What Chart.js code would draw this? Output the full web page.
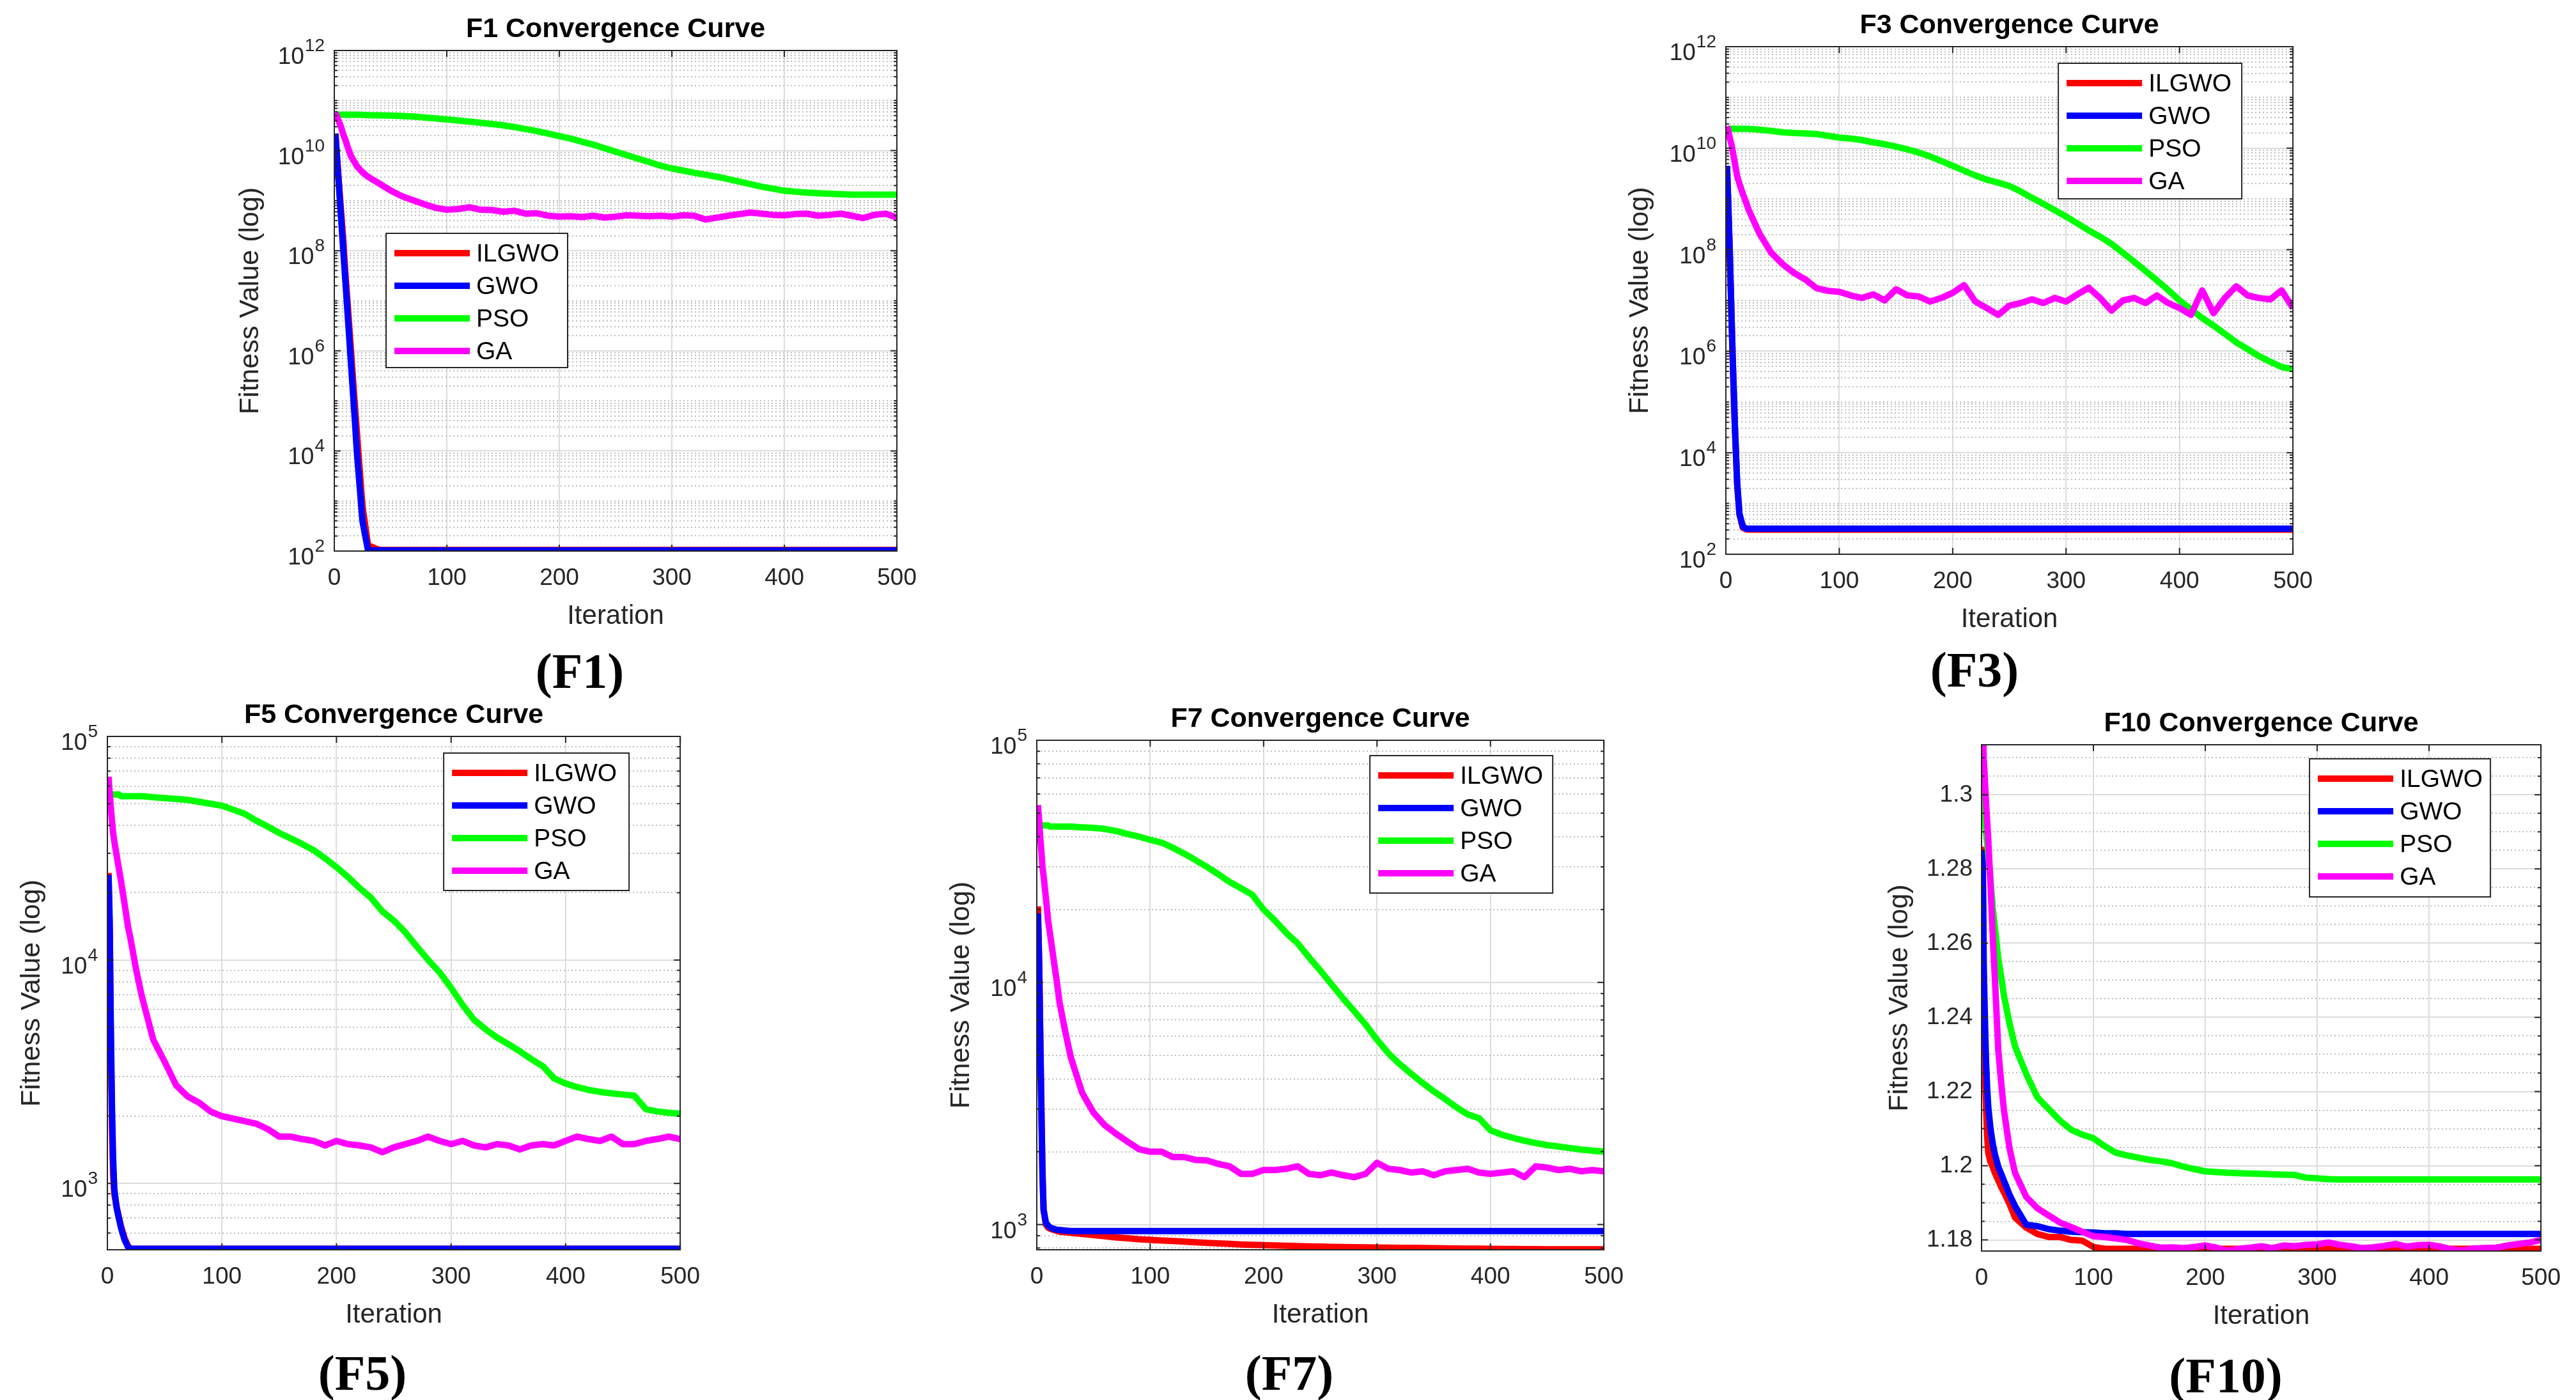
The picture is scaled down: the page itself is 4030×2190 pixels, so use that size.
<!DOCTYPE html>
<html>
<head>
<meta charset="utf-8">
<script src="https://cdn.jsdelivr.net/npm/chart.js@4.4.1/dist/chart.umd.min.js"></script>
<style>
html, body { margin: 0; padding: 0; background: #fff; }
body { width: 4030px; height: 2190px; position: relative; overflow: hidden; }
canvas { position: absolute; }
.cap { position: absolute; font: bold 78px 'Liberation Serif', serif; color: #000; transform: translate(-50%, -50%); white-space: nowrap; }
</style>
</head>
<body>
<div class="cap" style="left:907px;top:1050px">(F1)</div>
<div class="cap" style="left:3089px;top:1048px">(F3)</div>
<div class="cap" style="left:567px;top:2148px">(F5)</div>
<div class="cap" style="left:2017px;top:2148px">(F7)</div>
<div class="cap" style="left:3482px;top:2152px">(F10)</div>
<script>
// iterations sampled from the curves
var iters = [1,2,3,4,5,6,8,10,12,15,18,20,25,30,
  40,50,60,70,80,90,100,
  110,120,130,140,150,160,170,180,190,200,
  210,220,230,240,250,260,270,280,290,300,
  310,320,330,340,350,360,370,380,390,400,
  410,420,430,440,450,460,470,480,490,500];

var names = ['ILGWO', 'GWO', 'PSO', 'GA'];
var xTicks = [0, 100, 200, 300, 400, 500];

// F1
var f1Ilgwo = [2e10,1e10,5e9,2.5e9,1.25e9,6.3e8,1.6e8,3.2e7,8e6,9e5,1e5,2.5e4,8e2,1.3e2,
  105,105,105,105,105,105,105,
  105,105,105,105,105,105,105,105,105,105,
  105,105,105,105,105,105,105,105,105,105,
  105,105,105,105,105,105,105,105,105,105,
  105,105,105,105,105,105,105,105,105,105];
var f1Gwo = [2.2e10,1e10,4.6e9,2.1e9,1e9,4.6e8,1e8,2.2e7,4.8e6,4.8e5,5e4,1e4,4e2,103,
  103,103,103,103,103,103,103,
  103,103,103,103,103,103,103,103,103,103,
  103,103,103,103,103,103,103,103,103,103,
  103,103,103,103,103,103,103,103,103,103,
  103,103,103,103,103,103,103,103,103,103];
var f1Pso = [5.3e10,5.25e10,5.2e10,5.2e10,5.2e10,5.2e10,5.2e10,5.2e10,5.2e10,5.2e10,5.2e10,5.2e10,5.15e10,5.1e10,
  5.05e10,5.0e10,4.9e10,4.8e10,4.6e10,4.4e10,4.2e10,
  4.0e10,3.8e10,3.6e10,3.4e10,3.2e10,2.95e10,2.7e10,2.45e10,2.2e10,1.95e10,
  1.74e10,1.51e10,1.32e10,1.12e10,9.5e9,8.1e9,6.9e9,5.9e9,5.0e9,4.4e9,
  4.0e9,3.6e9,3.3e9,3.0e9,2.7e9,2.4e9,2.14e9,1.9e9,1.74e9,1.58e9,
  1.51e9,1.45e9,1.41e9,1.38e9,1.35e9,1.32e9,1.32e9,1.32e9,1.32e9,1.32e9];
var f1Ga = [5.75e10,5.0e10,4.4e10,3.8e10,3.4e10,2.95e10,2.1e10,1.6e10,1.15e10,7.6e9,5.9e9,4.9e9,3.7e9,3.0e9,
  2.2e9,1.6e9,1.23e9,1.02e9,8.5e8,7.2e8,6.6e8,
  6.8e8,7.4e8,6.6e8,6.5e8,6.0e8,6.3e8,5.5e8,5.6e8,5.0e8,4.8e8,
  4.9e8,4.7e8,5.0e8,4.6e8,4.8e8,5.1e8,5.0e8,4.9e8,5.0e8,4.8e8,
  5.1e8,5.0e8,4.2e8,4.6e8,5.0e8,5.4e8,5.8e8,5.5e8,5.2e8,5.1e8,
  5.4e8,5.5e8,5.0e8,5.2e8,5.5e8,5.0e8,4.5e8,5.2e8,5.5e8,4.6e8];

// F3
var f3Ilgwo = [4.4e9,9e8,1.8e8,3e7,4.5e6,7e5,3e4,2.3e3,6e2,3.3e2,3.1e2,305,305,305,
  305,305,305,305,305,305,305,
  305,305,305,305,305,305,305,305,305,305,
  305,305,305,305,305,305,305,305,305,305,
  305,305,305,305,305,305,305,305,305,305,
  305,305,305,305,305,305,305,305,305,305];
var f3Gwo = [4.5e9,1e9,2e8,3.2e7,5e6,8e5,3.2e4,2.5e3,6.3e2,3.5e2,320,320,320,320,
  320,320,320,320,320,320,320,
  320,320,320,320,320,320,320,320,320,320,
  320,320,320,320,320,320,320,320,320,320,
  320,320,320,320,320,320,320,320,320,320,
  320,320,320,320,320,320,320,320,320,320];
var f3Pso = [2.45e10,2.4e10,2.4e10,2.4e10,2.4e10,2.4e10,2.4e10,2.4e10,2.4e10,2.4e10,2.4e10,2.4e10,2.35e10,2.3e10,
  2.2e10,2.05e10,2.0e10,1.95e10,1.9e10,1.75e10,1.62e10,
  1.55e10,1.45e10,1.3e10,1.2e10,1.07e10,9.5e9,8.2e9,6.9e9,5.6e9,4.5e9,
  3.6e9,2.9e9,2.4e9,2.1e9,1.8e9,1.4e9,1.05e9,8e8,6e8,4.5e8,
  3.3e8,2.4e8,1.8e8,1.3e8,8.7e7,5.8e7,3.8e7,2.5e7,1.6e7,1.0e7,
  6.8e6,4.5e6,3.2e6,2.2e6,1.5e6,1.1e6,8e5,6.2e5,4.9e5,4.4e5];
var f3Ga = [2.7e10,2.24e10,1.78e10,1.41e10,1.17e10,8.9e9,5.0e9,2.8e9,2.0e9,1.26e9,8.3e8,6.2e8,3.5e8,2.0e8,
  8.7e7,5.2e7,3.5e7,2.6e7,1.74e7,1.55e7,1.48e7,
  1.26e7,1.12e7,1.32e7,1.0e7,1.66e7,1.26e7,1.2e7,9.5e6,1.12e7,1.41e7,
  2.0e7,9.5e6,7.1e6,5.2e6,7.9e6,8.9e6,1.05e7,8.9e6,1.12e7,9.5e6,
  1.32e7,1.78e7,1.12e7,6.3e6,1.0e7,1.12e7,8.9e6,1.26e7,8.9e6,7.1e6,
  5.2e6,1.58e7,5.6e6,1.12e7,1.9e7,1.26e7,1.12e7,1.05e7,1.58e7,7.1e6];

// F5
var f5Ilgwo = [2.45e4,1.3e4,4.5e3,1.8e3,1.1e3,900,790,710,640,570,525,512,510,510,
  510,510,510,510,510,510,510,
  510,510,510,510,510,510,510,510,510,510,
  510,510,510,510,510,510,510,510,510,510,
  510,510,510,510,510,510,510,510,510,510,
  510,510,510,510,510,510,510,510,510,510];
var f5Gwo = [2.4e4,1.5e4,5e3,2.2e3,1.3e3,950,780,700,630,560,520,510,510,510,
  510,510,510,510,510,510,510,
  510,510,510,510,510,510,510,510,510,510,
  510,510,510,510,510,510,510,510,510,510,
  510,510,510,510,510,510,510,510,510,510,
  510,510,510,510,510,510,510,510,510,510];
var f5Pso = [5.7e4,5.6e4,5.5e4,5.5e4,5.5e4,5.5e4,5.5e4,5.5e4,5.4e4,5.4e4,5.4e4,5.4e4,5.4e4,5.4e4,
  5.35e4,5.3e4,5.25e4,5.2e4,5.1e4,5.0e4,4.9e4,
  4.7e4,4.5e4,4.2e4,3.95e4,3.7e4,3.5e4,3.3e4,3.1e4,2.85e4,2.6e4,
  2.35e4,2.1e4,1.9e4,1.65e4,1.5e4,1.33e4,1.15e4,1.0e4,8.8e3,7.5e3,
  6.3e3,5.4e3,4.9e3,4.5e3,4.2e3,3.9e3,3.6e3,3.35e3,2.95e3,2.8e3,
  2.7e3,2.62e3,2.57e3,2.53e3,2.5e3,2.47e3,2.15e3,2.1e3,2.07e3,2.05e3];
var f5Ga = [6.6e4,5.6e4,4.8e4,4.2e4,3.7e4,3.4e4,2.95e4,2.57e4,2.24e4,1.78e4,1.41e4,1.26e4,9.1e3,6.9e3,
  4.4e3,3.5e3,2.75e3,2.45e3,2.3e3,2.1e3,2.0e3,
  1.95e3,1.9e3,1.85e3,1.75e3,1.62e3,1.62e3,1.58e3,1.55e3,1.48e3,1.55e3,
  1.5e3,1.48e3,1.45e3,1.38e3,1.45e3,1.5e3,1.55e3,1.62e3,1.55e3,1.5e3,
  1.55e3,1.48e3,1.45e3,1.5e3,1.48e3,1.42e3,1.48e3,1.5e3,1.48e3,1.55e3,
  1.62e3,1.58e3,1.55e3,1.62e3,1.5e3,1.5e3,1.55e3,1.58e3,1.62e3,1.58e3];

// F7
var f7Ilgwo = [2.06e4,1.3e4,6.5e3,3.2e3,1.7e3,1.15e3,1.0e3,970,960,950,940,935,930,925,
  915,905,895,885,878,870,865,
  860,855,850,845,840,836,832,828,825,822,
  820,817,815,813,811,809,807,806,805,804,
  803,802,801,800,799,798,797,796,795,794,
  793,793,792,792,791,791,790,790,790,790];
var f7Gwo = [1.93e4,1.2e4,6e3,3e3,1.6e3,1.15e3,1.02e3,990,970,960,950,950,945,940,
  940,940,940,940,940,940,940,
  940,940,940,940,940,940,940,940,940,940,
  940,940,940,940,940,940,940,940,940,940,
  940,940,940,940,940,940,940,940,940,940,
  940,940,940,940,940,940,940,940,940,940];
var f7Pso = [4.5e4,4.45e4,4.45e4,4.45e4,4.45e4,4.45e4,4.45e4,4.45e4,4.4e4,4.4e4,4.4e4,4.4e4,4.4e4,4.4e4,
  4.37e4,4.35e4,4.3e4,4.22e4,4.1e4,4.0e4,3.88e4,
  3.78e4,3.6e4,3.4e4,3.2e4,3.0e4,2.8e4,2.6e4,2.45e4,2.3e4,2.0e4,
  1.8e4,1.6e4,1.45e4,1.27e4,1.12e4,9.8e3,8.6e3,7.6e3,6.7e3,5.8e3,
  5.1e3,4.6e3,4.2e3,3.85e3,3.55e3,3.3e3,3.05e3,2.85e3,2.75e3,2.45e3,
  2.35e3,2.28e3,2.22e3,2.17e3,2.13e3,2.1e3,2.07e3,2.04e3,2.02e3,2.0e3];
var f7Ga = [5.4e4,4.7e4,4.0e4,3.5e4,3.0e4,2.75e4,2.24e4,1.8e4,1.55e4,1.23e4,9.8e3,8.3e3,6.3e3,4.9e3,
  3.5e3,2.9e3,2.57e3,2.37e3,2.2e3,2.05e3,2.0e3,
  2.0e3,1.9e3,1.9e3,1.85e3,1.84e3,1.78e3,1.74e3,1.62e3,1.62e3,1.68e3,
  1.68e3,1.7e3,1.74e3,1.62e3,1.6e3,1.64e3,1.6e3,1.57e3,1.62e3,1.8e3,
  1.7e3,1.68e3,1.64e3,1.66e3,1.6e3,1.66e3,1.68e3,1.7e3,1.64e3,1.62e3,
  1.64e3,1.66e3,1.57e3,1.74e3,1.72e3,1.68e3,1.7e3,1.66e3,1.68e3,1.66e3];

// F10
var f10Ilgwo = [1.286,1.245,1.226,1.216,1.208,1.2035,1.201,1.1997,1.198,1.196,1.194,1.1929,1.1897,1.186,
  1.1833,1.1816,1.1808,1.1808,1.18,1.1798,1.1781,
  1.1776,1.1776,1.1776,1.1776,1.1776,1.1776,1.1776,1.1776,1.1776,1.1776,
  1.1776,1.1776,1.1776,1.1776,1.1776,1.1776,1.1776,1.1776,1.1776,1.1776,
  1.1776,1.1776,1.1776,1.1776,1.1776,1.1776,1.1776,1.1776,1.1776,1.1776,
  1.1776,1.1776,1.1776,1.1776,1.1776,1.1776,1.1776,1.1776,1.1776,1.1776];
var f10Gwo = [1.2852,1.2534,1.240,1.2284,1.221,1.2159,1.210,1.206,1.203,1.1997,1.1975,1.196,1.1922,1.1891,
  1.1841,1.1837,1.1829,1.1825,1.1822,1.1821,1.182,
  1.1818,1.1818,1.1816,1.1816,1.1816,1.1816,1.1816,1.1816,1.1816,1.1816,
  1.1816,1.1816,1.1816,1.1816,1.1816,1.1816,1.1816,1.1816,1.1816,1.1816,
  1.1816,1.1816,1.1816,1.1816,1.1816,1.1816,1.1816,1.1816,1.1816,1.1816,
  1.1816,1.1816,1.1816,1.1816,1.1816,1.1816,1.1816,1.1816,1.1816,1.1816];
var f10Pso = [1.3007,1.297,1.293,1.290,1.287,1.284,1.277,1.2696,1.264,1.2558,1.250,1.2459,1.2384,1.2321,
  1.2247,1.2184,1.2153,1.2122,1.2097,1.2084,1.2074,
  1.2053,1.2035,1.2028,1.2022,1.2016,1.2012,1.2007,1.1998,1.1991,1.1985,
  1.1983,1.1981,1.198,1.1979,1.1978,1.1977,1.1976,1.1975,1.1968,1.1966,
  1.1964,1.1963,1.1963,1.1963,1.1963,1.1963,1.1963,1.1963,1.1963,1.1963,
  1.1963,1.1963,1.1963,1.1963,1.1963,1.1963,1.1963,1.1963,1.1963,1.1963];
var f10Ga = [1.32,1.3095,1.304,1.298,1.293,1.288,1.276,1.262,1.25,1.231,1.221,1.215,1.2047,1.198,
  1.1916,1.1885,1.1866,1.1847,1.1835,1.1822,1.181,
  1.1808,1.1804,1.18,1.1791,1.1785,1.1779,1.178,1.1778,1.1781,1.1785,
  1.1779,1.177,1.1776,1.1779,1.1783,1.1778,1.1785,1.1783,1.1787,1.1788,
  1.1793,1.1787,1.1783,1.1778,1.178,1.1784,1.1789,1.1782,1.1786,1.1787,
  1.1782,1.1775,1.1771,1.1777,1.1778,1.1779,1.1785,1.1789,1.1793,1.18];

// y tick labels (log axes: base 10 with exponent)
var bigLogTicks = [1e2, 1e4, 1e6, 1e8, 1e10, 1e12];
var bigLogExp = ['2', '4', '6', '8', '10', '12'];
var smallLogTicks = [1e3, 1e4, 1e5];
var smallLogExp = ['3', '4', '5'];
var f10Ticks = [1.18, 1.2, 1.22, 1.24, 1.26, 1.28, 1.3];
var f10Labels = ['1.18', '1.2', '1.22', '1.24', '1.26', '1.28', '1.3'];

var colors = ['#ff0000', '#0000ff', '#00ff00', '#ff00ff'];
var FONT = "'Liberation Sans', Arial, 'DejaVu Sans', sans-serif";
Chart.defaults.font.family = FONT;

function majorIndex(list, v) {
  if (v === undefined) return -1;
  for (var i = 0; i < list.length; i++) {
    if (Math.abs(v / list[i] - 1) < 1e-7) return i;
  }
  return -1;
}

// box round the axes with inward ticks, like matlab
var axisBox = {
  id: 'axisBox',
  afterDatasetsDraw: function(chart, args, o) {
    var a = chart.chartArea, ctx = chart.ctx;
    var ys = chart.scales.y, xs = chart.scales.x;
    ctx.save();
    ctx.strokeStyle = '#262626';
    ctx.lineWidth = 2;
    ctx.beginPath();
    ys.ticks.forEach(function(t) {
      var y = ys.getPixelForValue(t.value);
      var len = majorIndex(o.majors, t.value) >= 0 ? 10 : 5;
      ctx.moveTo(a.left, y); ctx.lineTo(a.left + len, y);
      ctx.moveTo(a.right, y); ctx.lineTo(a.right - len, y);
    });
    xs.ticks.forEach(function(t) {
      var x = xs.getPixelForValue(t.value);
      ctx.moveTo(x, a.bottom); ctx.lineTo(x, a.bottom - 10);
      ctx.moveTo(x, a.top); ctx.lineTo(x, a.top + 10);
    });
    ctx.stroke();
    ctx.strokeRect(a.left, a.top, a.right - a.left, a.bottom - a.top);
    ctx.restore();
  }
};

// 10^n labels on the log axes, exponent raised and smaller
var powLabels = {
  id: 'powLabels',
  afterDraw: function(chart, args, o) {
    if (!o.exps) return;
    var ys = chart.scales.y, ctx = chart.ctx, a = chart.chartArea;
    ctx.save();
    ctx.fillStyle = '#262626';
    ctx.textAlign = 'right';
    ctx.textBaseline = 'alphabetic';
    o.majors.forEach(function(v, i) {
      var y = ys.getPixelForValue(v);
      var xr = a.left - 15;
      ctx.font = '28px ' + FONT;
      ctx.fillText(o.exps[i], xr, y + 1);
      var ew = ctx.measureText(o.exps[i]).width;
      ctx.font = '37px ' + FONT;
      ctx.fillText('10', xr - ew - 1, y + 21);
    });
    ctx.restore();
  }
};

// legend box inside the plot
var boxLegend = {
  id: 'boxLegend',
  afterDraw: function(chart, args, o) {
    var a = chart.chartArea, ctx = chart.ctx;
    var w = o.w, h = o.h;
    var x0 = o.side === 'left' ? a.left + o.dx : a.right - o.dx - w;
    var y0 = a.top + o.dy;
    ctx.save();
    ctx.fillStyle = '#fff';
    ctx.fillRect(x0, y0, w, h);
    ctx.strokeStyle = '#262626';
    ctx.lineWidth = 2;
    ctx.strokeRect(x0, y0, w, h);
    ctx.font = '39px ' + FONT;
    ctx.textBaseline = 'middle';
    chart.data.datasets.forEach(function(ds, i) {
      var y = y0 + 31 + i * 51;
      ctx.strokeStyle = ds.borderColor;
      ctx.lineWidth = 10;
      ctx.beginPath();
      ctx.moveTo(x0 + 13, y); ctx.lineTo(x0 + 131, y);
      ctx.stroke();
      ctx.fillStyle = '#000';
      ctx.fillText(ds.label, x0 + 141, y + 2);
    });
    ctx.restore();
  }
};

function panel(p) {
  var W = p.yw, H = 123, TB = 54;
  var c = document.createElement('canvas');
  var left = p.L - W - 5, top = p.T - TB - 10;
  c.width = p.R - left + 45;
  c.height = p.B - top + H + 10;
  c.style.left = left + 'px';
  c.style.top = top + 'px';
  document.body.appendChild(c);

  var datasets = p.series.map(function(arr, i) {
    return {
      label: names[i],
      data: iters.map(function(x, k) { return {x: x, y: arr[k]}; }),
      borderColor: colors[i],
      backgroundColor: colors[i],
      borderWidth: 10,
      borderJoinStyle: 'round',
      pointRadius: 0,
      tension: 0,
      fill: false,
      order: 4 - i
    };
  });

  new Chart(c, {
    type: 'line',
    data: {datasets: datasets},
    plugins: [axisBox, powLabels, boxLegend],
    options: {
      responsive: false,
      animation: false,
      devicePixelRatio: 1,
      events: [],
      layout: {padding: {left: 5, top: 10, right: 45, bottom: 10}},
      scales: {
        x: {
          type: 'linear', min: 0, max: 500,
          afterBuildTicks: function(s) { s.ticks = xTicks.map(function(v) { return {value: v}; }); },
          afterFit: function(s) { s.height = H; },
          ticks: {font: {size: 37}, color: '#262626', padding: 21, maxRotation: 0, autoSkip: false},
          grid: {drawTicks: false, color: '#dcdcdc', lineWidth: 2},
          border: {display: false},
          title: {display: true, text: 'Iteration', color: '#262626', padding: 0, font: {size: 42, lineHeight: 1}}
        },
        y: {
          type: p.type, min: p.min, max: p.max,
          afterBuildTicks: function(s) { s.ticks = p.grid().map(function(v) { return {value: v}; }); },
          afterFit: function(s) { s.width = W; },
          ticks: {
            font: {size: 37}, color: '#262626', padding: 14, autoSkip: false,
            callback: function(v) {
              if (p.exps) return '';
              var i = majorIndex(p.majors, v);
              return i < 0 ? '' : p.labels[i];
            }
          },
          grid: {
            drawTicks: false, lineWidth: 2,
            color: function(ctx) { return majorIndex(p.majors, ctx.tick && ctx.tick.value) >= 0 ? '#dcdcdc' : '#bdbdbd'; }
          },
          border: {
            display: false,
            dash: function(ctx) { return (ctx.tick && majorIndex(p.majors, ctx.tick.value) < 0) ? [2, 4] : []; }
          },
          title: {display: true, text: 'Fitness Value (log)', color: '#262626', padding: 0, font: {size: 43, lineHeight: 1}}
        }
      },
      plugins: {
        legend: {display: false},
        tooltip: {enabled: false},
        title: {
          display: true, text: p.title, color: '#000', fullSize: false,
          padding: {top: 0, bottom: 11},
          font: {size: 43, weight: 'bold', lineHeight: 1}
        },
        axisBox: {majors: p.majors},
        powLabels: {majors: p.majors, exps: p.exps || null},
        boxLegend: {side: p.lg.side, dx: p.lg.dx, dy: p.lg.dy, w: p.lg.w, h: p.lg.h}
      }
    }
  });
}

// minor grid positions for the log axes
function logGrid(min, max) {
  return function() {
    var t = [];
    for (var e = Math.floor(Math.log10(min)); e <= Math.ceil(Math.log10(max)); e++) {
      for (var m = 1; m < 10; m++) {
        var v = m * Math.pow(10, e);
        if (v >= min * 0.9999 && v <= max * 1.0001) t.push(v);
      }
    }
    return t;
  };
}
function linGrid() {
  var t = [];
  for (var i = 0; i <= 26; i++) t.push(Math.round((1.18 + i * 0.005) * 1000) / 1000);
  return t;
}

panel({title: 'F1 Convergence Curve', L: 523, T: 79, R: 1410, B: 862, yw: 152,
  type: 'logarithmic', min: 1e2, max: 1e12, grid: logGrid(1e2, 1e12),
  majors: bigLogTicks, exps: bigLogExp,
  series: [f1Ilgwo, f1Gwo, f1Pso, f1Ga],
  lg: {side: 'left', dx: 81, dy: 286, w: 284, h: 210}});

panel({title: 'F3 Convergence Curve', L: 2700, T: 73, R: 3594, B: 867, yw: 155,
  type: 'logarithmic', min: 1e2, max: 1e12, grid: logGrid(1e2, 1e12),
  majors: bigLogTicks, exps: bigLogExp,
  series: [f3Ilgwo, f3Gwo, f3Pso, f3Ga],
  lg: {side: 'right', dx: 80, dy: 26, w: 287, h: 212}});

panel({title: 'F5 Convergence Curve', L: 168, T: 1152, R: 1071, B: 1955, yw: 139,
  type: 'logarithmic', min: 505, max: 1e5, grid: logGrid(505, 1e5),
  majors: smallLogTicks, exps: smallLogExp,
  series: [f5Ilgwo, f5Gwo, f5Pso, f5Ga],
  lg: {side: 'right', dx: 80, dy: 26, w: 290, h: 215}});

panel({title: 'F7 Convergence Curve', L: 1622, T: 1158, R: 2516, B: 1955, yw: 139,
  type: 'logarithmic', min: 787, max: 1e5, grid: logGrid(787, 1e5),
  majors: smallLogTicks, exps: smallLogExp,
  series: [f7Ilgwo, f7Gwo, f7Pso, f7Ga],
  lg: {side: 'right', dx: 80, dy: 24, w: 286, h: 215}});

panel({title: 'F10 Convergence Curve', L: 3100, T: 1165, R: 3982, B: 1957, yw: 149,
  type: 'linear', min: 1.177, max: 1.3135, grid: linGrid,
  majors: f10Ticks, labels: f10Labels,
  series: [f10Ilgwo, f10Gwo, f10Pso, f10Ga],
  lg: {side: 'right', dx: 79, dy: 22, w: 283, h: 216}});
</script>
</body>
</html>
